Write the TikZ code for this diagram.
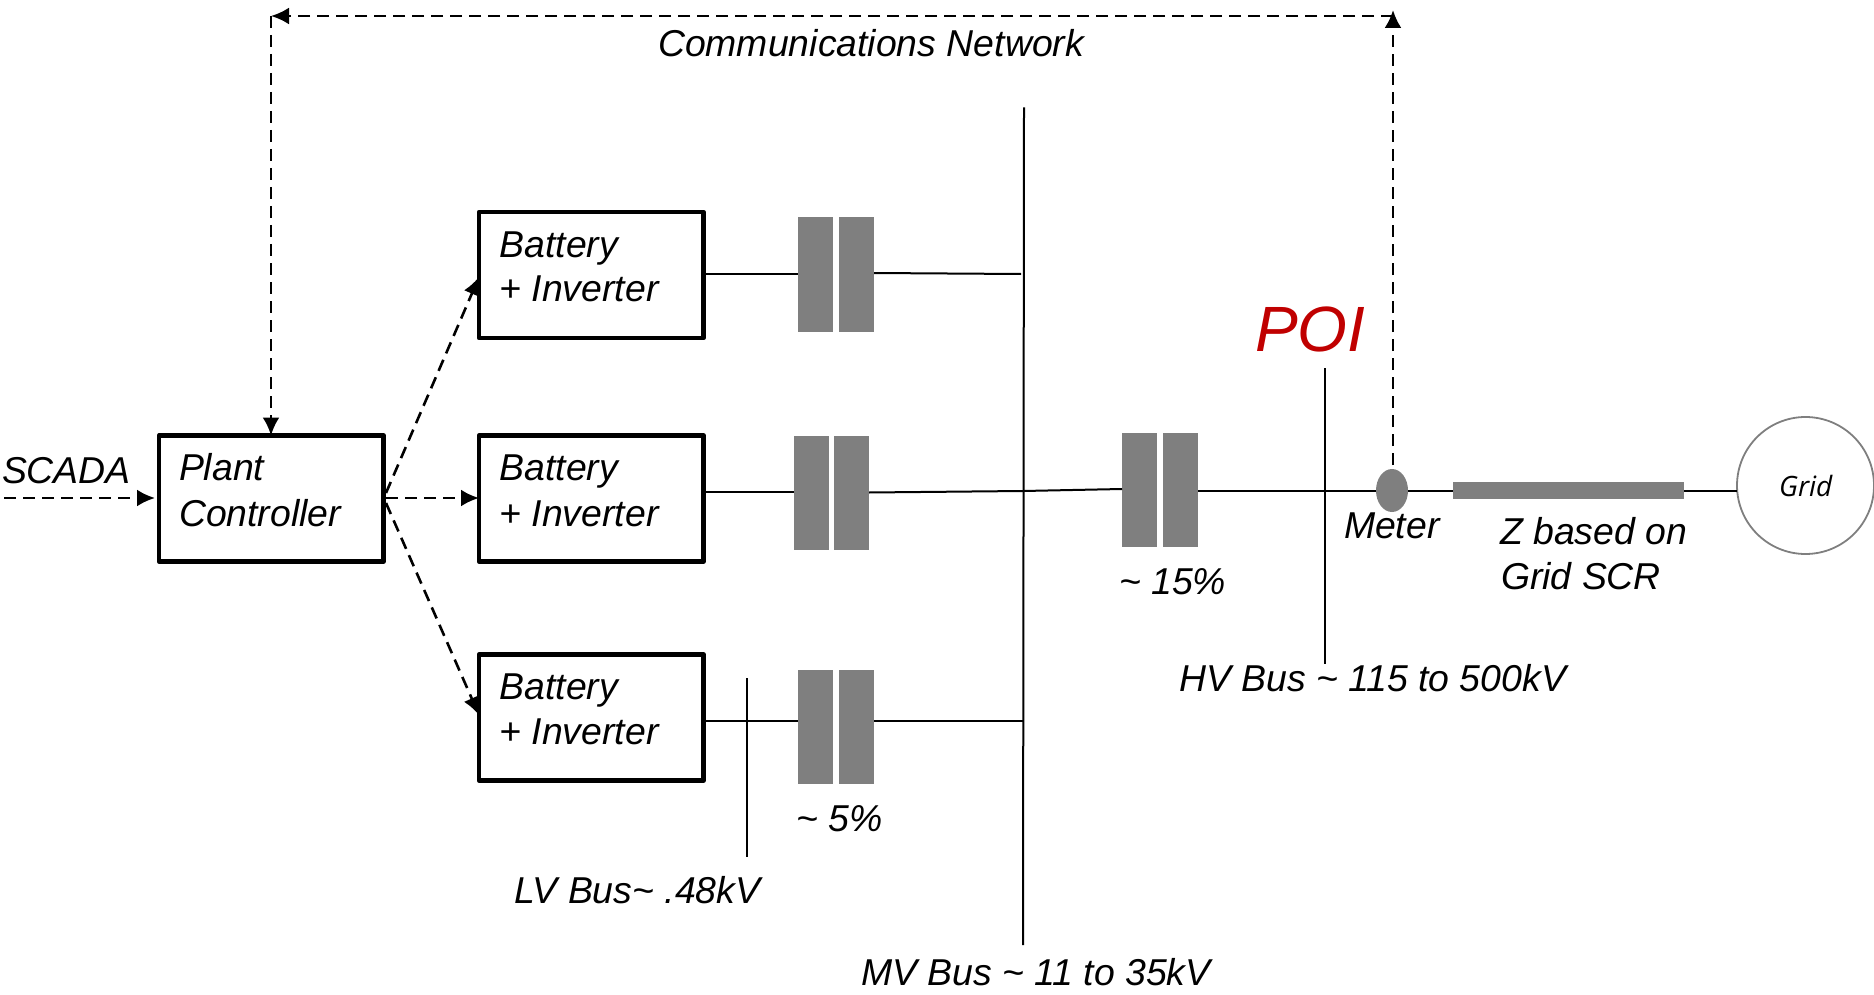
\documentclass[tikz,border=0pt]{standalone}
\usepackage{fontspec}
\setmainfont{Liberation Sans}
\newfontfamily\gridfont{Open Sans}
\usetikzlibrary{arrows.meta,shapes.geometric}
\definecolor{gray50}{RGB}{127,127,127}
\definecolor{poi}{RGB}{192,0,0}
\tikzset{
  every node/.style={inner sep=0pt,outer sep=0pt},
  lab/.style={anchor=base west,font=\fontsize{37.4}{44}\selectfont\itshape,text=black},
  boxn/.style={draw=black,line width=4.8pt,fill=white,line join=round,anchor=north west},
  xf/.style={fill=gray50,draw=none,anchor=north west},
  wire/.style={draw=black,line width=2pt},
  ctl/.style={draw=black,line width=2.6pt,dash pattern=on 12pt off 7pt,-{Latex[length=18pt,width=17pt]}},
}
\newcommand{\xfpair}[4]{%
 \node[xf,minimum width=35pt,minimum height=114pt] (#1a) at (#2,#4) {};
 \node[xf,minimum width=35pt,minimum height=114pt] (#1b) at (#3,#4) {};}
\begin{document}
\begin{tikzpicture}[x=1pt,y=-1pt]
\useasboundingbox (0,0) rectangle (1874,995);
% boxes
\node[boxn,minimum width=224.5pt,minimum height=126pt] (plant) at (159,435.5) {};
\node[boxn,minimum width=224.5pt,minimum height=126pt] (b1) at (479,212) {};
\node[boxn,minimum width=224.5pt,minimum height=126pt] (b2) at (479,435.5) {};
\node[boxn,minimum width=224.5pt,minimum height=126pt] (b3) at (479,654.5) {};
% transformers
\xfpair{ta}{798}{839}{217.5}
\xfpair{tb}{793.5}{834}{436}
\xfpair{tc}{798}{839}{670}
\xfpair{td}{1122}{1163}{432.5}
% meter, impedance, grid
\node[fill=gray50,ellipse,minimum width=32pt,minimum height=43pt] (meter) at (1392,490.5) {};
\node[fill=gray50,minimum width=231pt,minimum height=17pt] (z) at (1568.5,490) {};
\node[circle,draw=gray50,line width=1.8pt,minimum size=137pt] (grid) at (1805.5,485.5) {};
% bus coordinates
\coordinate (mvt) at (1024,107.5);
\coordinate (mvb) at (1023,945);
\coordinate (mv1) at (1021,274);
\coordinate (mv2) at (1023,491);
\coordinate (mv3) at (1023,720.5);
\coordinate (hvt) at (1325,368);
\coordinate (hvb) at (1325,664);
\coordinate (lvt) at (747,678);
\coordinate (lvb) at (747,857);
% wires
\draw[wire] (mvt) -- (mvb);
\draw[wire] (hvt) -- (hvb);
\draw[wire] (lvt) -- (lvb);
\draw[wire] (b1.east |- 0,274) -- (taa.west |- 0,274);
\draw[wire] (tab.east |- 0,273) -- (mv1);
\draw[wire] (b2.east |- 0,492) -- (tba.west |- 0,492);
\draw[wire] (tbb.east |- 0,492.5) -- (mv2) -- (tda.west |- 0,489);
\draw[wire] (b3.east |- 0,720.5) -- (tca.west |- 0,720.5);
\draw[wire] (tcb.east |- 0,720.5) -- (mv3);
\draw[wire] (tdb.east |- 0,491) -- (meter.west |- 0,491);
\draw[wire] (meter.east |- 0,491) -- (z.west |- 0,491);
\draw[wire] (z.east |- 0,491) -- (grid.west |- 0,491);
% control
\coordinate (sc) at (4,498);
\coordinate (scend) at (155,498);
\coordinate (plo) at (386,498);
\coordinate (ptop) at (271,16);
\coordinate (mtop) at (1393,10);
\coordinate (mbot) at (1393,465);
\draw[ctl] (sc) -- (scend);
\draw[ctl] (plo) -- (b2.west |- plo);
\draw[ctl] (386,493) -- (b1.west |- 0,277);
\draw[ctl] (386,503) -- (b3.west |- 0,715);
\draw[ctl] (ptop) -- (plant.north -| ptop);
\draw[ctl] (mbot) -- (mtop);
\draw[ctl] (mtop |- ptop) -- (ptop);
% text
\node[lab] (tsc) at (2,483) {SCADA};
\node[lab] (tcn) at (658,56.5) {Communications Network};
\node[lab] (tp1) at (179,480) {Plant};
\node[lab] (tp2) at (179,526) {Controller};
\node[lab] (t1a) at (499.5,257.5) {Battery};
\node[lab] (t1b) at (499.5,301.5) {+ Inverter};
\node[lab] (t2a) at (499.5,480.5) {Battery};
\node[lab] (t2b) at (499.5,526) {+ Inverter};
\node[lab] (t3a) at (499.5,699.5) {Battery};
\node[lab] (t3b) at (499.5,744) {+ Inverter};
\node[lab] (t5) at (796,831) {\textasciitilde{} 5\%};
\node[lab] (t15) at (1119,594) {\textasciitilde{} 15\%};
\node[lab] (tlv) at (514,903) {LV Bus\textasciitilde{} .48kV};
\node[lab] (tmv) at (861,985) {MV Bus \textasciitilde{} 11 to 35kV};
\node[lab] (thv) at (1179,691) {HV Bus \textasciitilde{} 115 to 500kV};
\node[lab] (tmt) at (1344,538) {Meter};
\node[lab] (tz1) at (1500,544) {Z based on};
\node[lab] (tz2) at (1501,589) {Grid SCR};
\node[anchor=base west,font=\fontsize{64}{70}\selectfont\itshape,text=poi] (tpoi) at (1255,351) {POI};
\node[anchor=base west,font=\gridfont\fontsize{28}{30}\selectfont\itshape] (tgrid) at (1779,496) {Grid};
\end{tikzpicture}
\end{document}
